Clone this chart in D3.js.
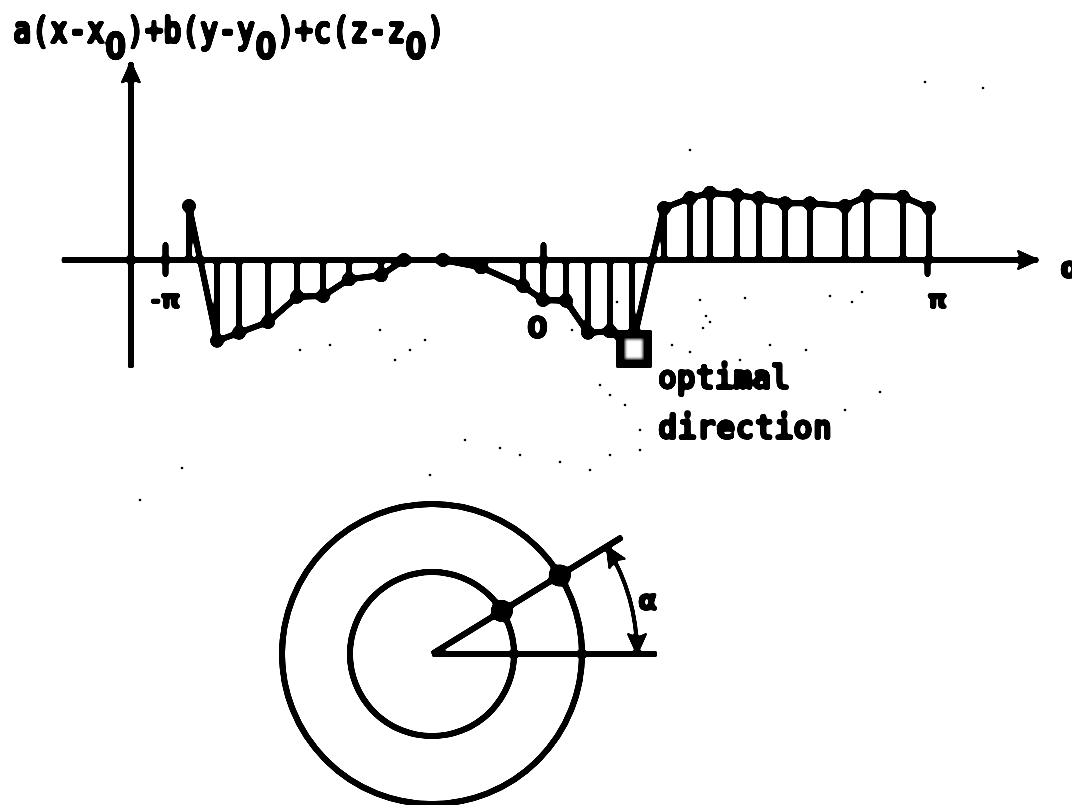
<!DOCTYPE html>
<html>
<head>
<meta charset="utf-8">
<script src="https://cdn.jsdelivr.net/npm/d3@7"></script>
<style>
  html, body { margin: 0; padding: 0; background: #fff; overflow: hidden; }
  text { font-family: "DejaVu Sans Mono", monospace; font-weight: bold; fill: #000; stroke: #000; stroke-width: 1.6px; }
</style>
</head>
<body>
<main></main>
<script>
'use strict'

var alphaValues = [-2.942, -2.709, -2.526, -2.285, -2.044, -1.828, -1.612, -1.346, -1.155, -0.831, -0.515, -0.166, 0,
  0.188, 0.368, 0.548, 0.728, 0.990, 1.203, 1.366, 1.587, 1.767, 1.980, 2.184, 2.471, 2.651, 2.945, 3.158]
var planeValues = [0.675, -1.01, -0.91, -0.775, -0.46, -0.45, -0.24, -0.19, 0, 0, -0.09, -0.325, -0.50,
  -0.51, -0.91, -0.89, -1.10, 0.65, 0.775, 0.84, 0.81, 0.775, 0.71, 0.71, 0.675, 0.80, 0.79, 0.65]
var tickValues = [-Math.PI, 0, Math.PI]
var tickLabels = ['-π', '0', 'π']
var ringRadii = [0.547, 1]
var rayAngle = 31.6
var rayLength = 1.49
var baseLength = 1.5
var sweepRadius = 1.367
var optimalIndex = 16
var specks = [[925, 82], [983, 88], [690, 150], [706, 316], [182, 468], [617, 302], [572, 330], [140, 500],
  [710, 322], [703, 328], [700, 300], [745, 298], [830, 296], [852, 302], [862, 292], [672, 345], [690, 352],
  [740, 360], [770, 345], [806, 350], [600, 385], [610, 395], [625, 405], [640, 430], [845, 410], [880, 392],
  [500, 448], [520, 455], [560, 462], [590, 470], [610, 455], [640, 450], [465, 440], [430, 475], [380, 330],
  [410, 350], [425, 340], [395, 360], [300, 350], [330, 345]]

var width = 1072
var height = 805

var x = d3.scaleLinear().domain([-Math.PI, 0, Math.PI]).range([165, 543, 927])
var y = d3.scaleLinear().domain([-1, 1]).range([340, 180])
var r = d3.scaleLinear().domain([0, 1]).range([0, 150])

var svg = d3.select('main').append('svg')
  .attr('width', width)
  .attr('height', height)
  .style('display', 'block')

var defs = svg.append('defs')

// blur + threshold gives the blobby photocopy look
var ink = defs.append('filter')
  .attr('id', 'ink')
  .attr('filterUnits', 'userSpaceOnUse')
  .attr('x', 0).attr('y', 0)
  .attr('width', width).attr('height', height)
ink.append('feGaussianBlur').attr('stdDeviation', 1.1)
ink.append('feComponentTransfer').append('feFuncA')
  .attr('type', 'linear').attr('slope', 6).attr('intercept', -2.2)

defs.append('marker')
  .attr('id', 'arrow')
  .attr('markerUnits', 'userSpaceOnUse')
  .attr('viewBox', '0 -11 24 22')
  .attr('refX', 22).attr('refY', 0)
  .attr('markerWidth', 24).attr('markerHeight', 22)
  .attr('orient', 'auto-start-reverse')
  .append('path')
  .attr('d', 'M0,-11L24,0L0,11L5,0Z')

var g = svg.append('g').attr('filter', 'url(#ink)')

// title
var title = g.append('text')
  .attr('x', 13).attr('y', 43)
  .attr('textLength', 432)
  .attr('lengthAdjust', 'spacingAndGlyphs')
  .style('font-size', '38px')
var titleParts = ['a(x-x', '0', ')+b(y-y', '0', ')+c(z-z', '0', ')']
titleParts.forEach(function (part, i) {
  title.append('tspan')
    .attr('dy', i === 0 ? 0 : (i % 2 ? 16 : -16))
    .style('font-family', i % 2 ? '"DejaVu Sans"' : null)
    .text(part)
})

// axes
var xAxis = d3.axisBottom(x)
  .tickValues(tickValues)
  .tickSize(14)
  .tickSizeOuter(0)
  .tickFormat(function (d, i) { return tickLabels[i] })

var xAxisG = g.append('g')
  .attr('transform', 'translate(0,' + y(0) + ')')
  .call(xAxis)
xAxisG.select('.domain').remove()
xAxisG.selectAll('.tick line')
  .attr('stroke', '#000')
  .attr('stroke-width', 6)
  .attr('stroke-linecap', 'round')
  .attr('y1', function (d) { return d === Math.PI ? 0 : -15 })
  .attr('y2', function (d) { return d === 0 ? 8 : 14 })
xAxisG.selectAll('.tick text')
  .attr('fill', '#000')
  .attr('text-anchor', 'middle')
  .attr('dx', function (d) { return d < 0 ? 0 : (d === 0 ? -6 : 10) })
  .attr('y', function (d) { return d === 0 ? 78 : 48 })
  .attr('dy', 0)
  .style('font-family', '"DejaVu Sans"')
  .style('font-size', function (d) { return d === 0 ? '30px' : '25px' })

g.append('line')
  .attr('x1', x(-4)).attr('x2', x(4.05))
  .attr('y1', y(0)).attr('y2', y(0))
  .attr('stroke', '#000').attr('stroke-width', 6)
  .attr('marker-end', 'url(#arrow)')

g.append('line')
  .attr('x1', x(-3.425)).attr('x2', x(-3.425))
  .attr('y1', y(-1.35)).attr('y2', y(2.47))
  .attr('stroke', '#000').attr('stroke-width', 6)
  .attr('marker-end', 'url(#arrow)')

g.append('text')
  .attr('x', 1060).attr('y', 278)
  .style('font-family', '"DejaVu Sans"')
  .style('font-size', '30px')
  .text('α')

// samples
var samples = d3.zip(alphaValues, planeValues)

g.selectAll()
  .data(samples)
  .enter().append('line')
  .attr('x1', function (d) { return x(d[0]) })
  .attr('x2', function (d) { return x(d[0]) })
  .attr('y1', y(0))
  .attr('y2', function (d) { return y(d[1]) })
  .attr('stroke', '#000')
  .attr('stroke-width', 6)

g.append('path')
  .datum(samples)
  .attr('fill', 'none')
  .attr('stroke', '#000')
  .attr('stroke-width', 6)
  .attr('d', d3.line().x(function (d) { return x(d[0]) }).y(function (d) { return y(d[1]) }))

g.selectAll()
  .data(samples)
  .enter().append('circle')
  .attr('cx', function (d) { return x(d[0]) })
  .attr('cy', function (d) { return y(d[1]) })
  .attr('r', 7)

// box round the best sample
g.append('rect')
  .attr('x', x(alphaValues[optimalIndex]) - 11)
  .attr('y', y(planeValues[optimalIndex]) - 13)
  .attr('width', 26)
  .attr('height', 28)
  .attr('fill', '#fff')
  .attr('stroke', '#000')
  .attr('stroke-width', 10)

g.append('text')
  .attr('x', 658).attr('y', 389)
  .attr('textLength', 132)
  .attr('lengthAdjust', 'spacingAndGlyphs')
  .style('font-size', '34px')
  .text('optimal')

g.append('text')
  .attr('x', 658).attr('y', 439)
  .attr('textLength', 174)
  .attr('lengthAdjust', 'spacingAndGlyphs')
  .style('font-size', '34px')
  .text('direction')

// polar sketch
var polar = g.append('g').attr('transform', 'translate(432,654)')

polar.selectAll()
  .data(ringRadii)
  .enter().append('circle')
  .attr('r', function (d) { return r(d) })
  .attr('fill', 'none')
  .attr('stroke', '#000')
  .attr('stroke-width', 6)

var rad = rayAngle * Math.PI / 180

polar.append('line')
  .attr('x2', r(rayLength) * Math.cos(rad))
  .attr('y2', -r(rayLength) * Math.sin(rad))
  .attr('stroke', '#000').attr('stroke-width', 6)

polar.append('line')
  .attr('x2', r(baseLength))
  .attr('stroke', '#000').attr('stroke-width', 6)

polar.selectAll()
  .data(ringRadii)
  .enter().append('circle')
  .attr('cx', function (d) { return r(d) * Math.cos(rad) })
  .attr('cy', function (d) { return -r(d) * Math.sin(rad) })
  .attr('r', 11)

var sweep = d3.path()
sweep.arc(0, 0, r(sweepRadius), -rad, 0)
polar.append('path')
  .attr('d', sweep.toString())
  .attr('fill', 'none')
  .attr('stroke', '#000')
  .attr('stroke-width', 4)
  .attr('marker-start', 'url(#arrow)')
  .attr('marker-end', 'url(#arrow)')

polar.append('text')
  .attr('x', 206).attr('y', -44)
  .style('font-family', '"DejaVu Sans"')
  .style('font-size', '28px')
  .text('α')

// stray copier specks
svg.selectAll()
  .data(specks)
  .enter().append('circle')
  .attr('cx', function (d) { return d[0] })
  .attr('cy', function (d) { return d[1] })
  .attr('r', 1.3)
</script>
</body>
</html>
